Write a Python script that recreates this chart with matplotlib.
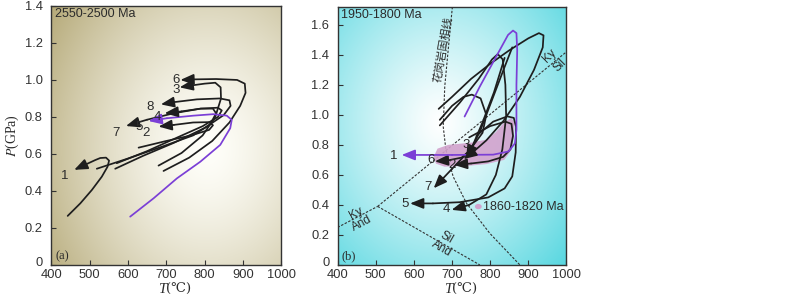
import numpy as np
import matplotlib
matplotlib.use("Agg")
import matplotlib.pyplot as plt
import matplotlib.transforms as mtransforms
from matplotlib.patches import Polygon, Ellipse

plt.rcParams['font.family'] = ['Liberation Sans', 'Noto Sans CJK SC', 'DejaVu Sans']
plt.rcParams['mathtext.fontset'] = 'stix'

# ---------------- data: panel (a) 2550-2500 Ma ----------------
a_xticks = [400, 500, 600, 700, 800, 900, 1000]
a_yticks = [0, 0.2, 0.4, 0.6, 0.8, 1.0, 1.2, 1.4]
a_ylabels = ["0", "0.2", "0.4", "0.6", "0.8", "1.0", "1.2", "1.4"]

a_c1 = [(443, 0.265), (476, 0.333), (506, 0.405), (532, 0.477), (547, 0.531), (551, 0.564),
        (543, 0.58), (528, 0.578), (515, 0.567), (490, 0.543), (460, 0.514)]
a_c6 = [(693, 0.508), (760, 0.58), (820, 0.67), (865, 0.77), (893, 0.86), (907, 0.93),
        (905, 0.98), (885, 1.0), (830, 1.005), (770, 1.003), (737, 1.0)]
a_c3 = [(680, 0.537), (740, 0.605), (795, 0.7), (828, 0.8), (843, 0.9), (842, 0.96),
        (828, 0.985), (800, 0.98), (765, 0.97), (735, 0.96)]
a_c8 = [(567, 0.52), (640, 0.59), (720, 0.66), (800, 0.74), (850, 0.81), (868, 0.86),
        (865, 0.89), (840, 0.9), (780, 0.895), (720, 0.88), (686, 0.868)]
a_c4 = [(571, 0.55), (650, 0.615), (730, 0.69), (795, 0.75), (835, 0.8), (845, 0.835),
        (835, 0.85), (790, 0.845), (740, 0.83), (696, 0.82)]
a_c7 = [(519, 0.52), (600, 0.575), (690, 0.64), (770, 0.70), (815, 0.76), (830, 0.82),
        (822, 0.845), (790, 0.845), (720, 0.82), (650, 0.785), (595, 0.751)]
a_c2 = [(628, 0.634), (700, 0.67), (765, 0.70), (812, 0.73), (822, 0.755), (812, 0.772),
        (770, 0.77), (720, 0.757), (680, 0.748)]
a_c5 = [(606, 0.261), (667, 0.36), (728, 0.468), (789, 0.558), (841, 0.649), (867, 0.739),
        (871, 0.784), (858, 0.807), (823, 0.815), (771, 0.807), (702, 0.793), (654, 0.778)]
a_black = [a_c1, a_c6, a_c3, a_c8, a_c4, a_c7, a_c2]
a_purple = [a_c5]
a_labels = [("1", 434, 0.481), ("2", 648, 0.712), ("3", 725, 0.944), ("4", 676, 0.80),
            ("5", 630, 0.748), ("6", 725, 1.0), ("7", 569, 0.715), ("8", 657, 0.852)]

# ---------------- data: panel (b) 1950-1800 Ma ----------------
b_xticks = [400, 500, 600, 700, 800, 900, 1000]
b_yticks = [0, 0.2, 0.4, 0.6, 0.8, 1.0, 1.2, 1.4, 1.6]
b_ylabels = ["0", "0.2", "0.4", "0.6", "0.8", "1.0", "1.2", "1.4", "1.6"]

b_c1 = [(733, 0.989), (773, 1.189), (816, 1.389), (847, 1.533), (860, 1.562), (869, 1.545),
        (871, 1.43), (869, 1.2), (869, 0.9), (865, 0.81), (848, 0.756), (808, 0.735),
        (700, 0.733), (568, 0.733)]
b_c3 = [(665, 1.04), (700, 1.12), (750, 1.24), (800, 1.34), (850, 1.43), (900, 1.51),
        (928, 1.545), (940, 1.53), (938, 1.45), (915, 1.3), (878, 1.12), (835, 0.96),
        (790, 0.83), (752, 0.745), (730, 0.705)]
b_c4 = [(668, 0.93), (720, 1.08), (770, 1.24), (805, 1.37), (820, 1.405), (833, 1.37),
        (840, 1.2), (842, 0.99), (832, 0.77), (815, 0.6), (790, 0.47), (745, 0.4), (699, 0.367)]
b_c7 = [(668, 0.967), (700, 1.06), (730, 1.12), (752, 1.135), (775, 1.11), (790, 1.0),
        (780, 0.88), (745, 0.76), (700, 0.64), (652, 0.511)]
b_c5 = [(764, 0.86), (808, 0.955), (845, 0.99), (862, 0.98), (868, 0.92), (867, 0.75),
        (858, 0.59), (838, 0.51), (795, 0.45), (720, 0.418), (650, 0.41), (590, 0.41)]
b_c2 = [(745, 0.85), (800, 0.925), (840, 0.955), (856, 0.94), (860, 0.86), (853, 0.77),
        (834, 0.72), (795, 0.69), (750, 0.676), (705, 0.667)]
b_c6 = [(858, 1.45), (835, 1.3), (805, 1.1), (775, 0.9), (750, 0.77), (725, 0.715),
        (690, 0.697), (655, 0.69)]
b_x1 = [(838, 1.38), (810, 1.15), (780, 0.95), (755, 0.80), (737, 0.71)]
b_black = [b_c3, b_c4, b_c7, b_c5, b_c2, b_c6, b_x1]
b_purple = [b_c1]
b_labels = [("1", 548, 0.727), ("2", 699, 0.667), ("3", 738, 0.796), ("4", 686, 0.371),
            ("5", 578, 0.407), ("6", 646, 0.70), ("7", 638, 0.522)]

# 1860-1820 Ma field
b_pink = [(652, 0.72), (662, 0.775), (690, 0.80), (750, 0.815), (790, 0.835), (815, 0.885),
          (835, 0.945), (855, 0.98), (864, 0.95), (862, 0.85), (857, 0.77), (837, 0.70),
          (790, 0.672), (740, 0.66), (680, 0.655), (658, 0.675)]

# reaction lines
solidus = [(701, 1.72), (690, 1.433), (681, 1.189), (677, 0.922), (684, 0.767),
           (703, 0.589), (738, 0.411), (799, 0.211), (878, 0.0)]
ky_sil = [(505, 0.39), (1000, 1.42)]
ky_and = [(400, 0.25), (505, 0.39)]
and_sil = [(505, 0.39), (773, 0.0)]

# ---------------- drawing ----------------
fig = plt.figure(figsize=(8.0, 2.98), dpi=100)
axa = fig.add_axes([0.064, 0.111, 0.2875, 0.869])
axb = fig.add_axes([0.422, 0.111, 0.286, 0.866])

txt_col = '#2b2b2b'


def gradient(ax, xlim, ylim, center, scale, c_in, c_out, power):
    u = np.linspace(0, 1, 300)
    v = np.linspace(0, 1, 300)
    U, V = np.meshgrid(u, v)
    d = np.sqrt(((U - center[0]) / scale[0]) ** 2 + ((V - center[1]) / scale[1]) ** 2)
    t = np.clip(d, 0, 1) ** power
    c_in = np.array(c_in) / 255.0
    c_out = np.array(c_out) / 255.0
    img = c_in[None, None, :] * (1 - t[..., None]) + c_out[None, None, :] * t[..., None]
    ax.imshow(img, extent=[xlim[0], xlim[1], ylim[0], ylim[1]], origin='lower',
              aspect='auto', zorder=0, interpolation='bilinear')


def draw_path(ax, pts, color, lw=1.25, z=3):
    xs = [p[0] for p in pts]
    ys = [p[1] for p in pts]
    ax.plot(xs[:-1], ys[:-1], color=color, lw=lw, zorder=z, solid_capstyle='round')
    ax.annotate('', xy=(xs[-1], ys[-1]), xytext=(xs[-2], ys[-2]),
                arrowprops=dict(arrowstyle='-|>,head_length=0.8,head_width=0.32',
                                color=color, lw=lw, shrinkA=0, shrinkB=0,
                                mutation_scale=10), zorder=z + 1)


def style(ax, xlim, ylim, xt, yt, yl):
    ax.set_xlim(*xlim)
    ax.set_ylim(*ylim)
    ax.set_xticks(xt)
    ax.set_xticklabels([str(x) for x in xt])
    ax.set_yticks(yt)
    ax.set_yticklabels(yl)
    ax.tick_params(direction='in', length=3.5, width=0.8, labelsize=9.3,
                   colors='#333333')
    ax.tick_params(axis='x', pad=3)
    ax.tick_params(axis='y', pad=6)
    # lift the "0" label slightly so it clears the x tick labels
    lab0 = ax.get_yticklabels()[0]
    lab0.set_transform(lab0.get_transform() +
                       mtransforms.ScaledTranslation(0, 3 / 100, fig.dpi_scale_trans))
    for s in ax.spines.values():
        s.set_color('#333333')
        s.set_linewidth(1.0)
    ax.text(0.5, -0.11, 'T', transform=ax.transAxes, fontsize=10.5, color=txt_col,
            ha='right', va='baseline', style='italic', family='Liberation Serif')
    ax.text(0.5, -0.11, '(\u2103)', transform=ax.transAxes, fontsize=9.5, color=txt_col,
            ha='left', va='baseline', family=['DejaVu Serif', 'DejaVu Sans'])


# panel a
gradient(axa, (400, 1000), (0, 1.4), (0.68, 0.45), (0.85, 0.95),
         (255, 255, 250), (180, 168, 118), 1.4)
for c in a_black:
    draw_path(axa, c, '#1e1e1e')
for c in a_purple:
    draw_path(axa, c, '#7b3fd6')
for s, x, y in a_labels:
    axa.text(x, y, s, fontsize=9.5, color=txt_col, ha='center', va='center', zorder=6)
axa.text(410, 1.355, '2550-2500 Ma', fontsize=9, color=txt_col, ha='left', va='center')
axa.text(412, 0.045, '(a)', fontsize=9, color=txt_col, ha='left', va='center',
         family='Liberation Serif')
style(axa, (400, 1000), (0, 1.4), a_xticks, a_yticks, a_ylabels)
axa.set_ylabel('$P$(GPa)', fontsize=10, color=txt_col, labelpad=3,
               family='Liberation Serif')

# panel b
gradient(axb, (400, 1000), (0, 1.72), (0.45, 0.55), (0.8, 0.85),
         (255, 255, 255), (75, 212, 222), 1.2)
dash = (0, (2.2, 1.4))
for line in (solidus, ky_sil, ky_and, and_sil):
    axb.plot([p[0] for p in line], [p[1] for p in line], color='#333333', lw=0.8,
             linestyle=dash, zorder=2)
axb.add_patch(Polygon(b_pink, closed=True, facecolor='#d2a2cd', edgecolor='none',
                      alpha=0.9, zorder=2.5))
for c in b_black:
    draw_path(axb, c, '#1e1e1e')
for c in b_purple:
    draw_path(axb, c, '#7b3fd6')
for s, x, y in b_labels:
    axb.text(x, y, s, fontsize=9.5, color=txt_col, ha='center', va='center', zorder=6)
axb.text(410, 1.665, '1950-1800 Ma', fontsize=9, color=txt_col, ha='left', va='center')
axb.text(410, 0.06, '(b)', fontsize=9, color=txt_col, ha='left', va='center',
         family='Liberation Serif')
axb.add_patch(Ellipse((769, 0.389), 18, 0.035, facecolor='#d2a2cd', edgecolor='none',
                      zorder=3))
axb.text(780, 0.389, '1860-1820 Ma', fontsize=9, color=txt_col, ha='left', va='center')
axb.text(676, 1.435, '花岗岩固相线', fontsize=8, color=txt_col, rotation=80,
         ha='center', va='center', family=['Noto Sans CJK SC'])
axb.text(450, 0.345, 'Ky', fontsize=8.5, color=txt_col, rotation=28, ha='center', va='center')
axb.text(463, 0.275, 'And', fontsize=8.5, color=txt_col, rotation=28, ha='center', va='center')
axb.text(687, 0.185, 'Sil', fontsize=8.5, color=txt_col, rotation=-30, ha='center', va='center')
axb.text(672, 0.11, 'And', fontsize=8.5, color=txt_col, rotation=-30, ha='center', va='center')
axb.text(955, 1.39, 'Ky', fontsize=8.5, color=txt_col, rotation=45, ha='center', va='center')
axb.text(982, 1.33, 'Sil', fontsize=8.5, color=txt_col, rotation=45, ha='center', va='center')
style(axb, (400, 1000), (0, 1.72), b_xticks, b_yticks, b_ylabels)

fig.savefig('out.png', dpi=100)
